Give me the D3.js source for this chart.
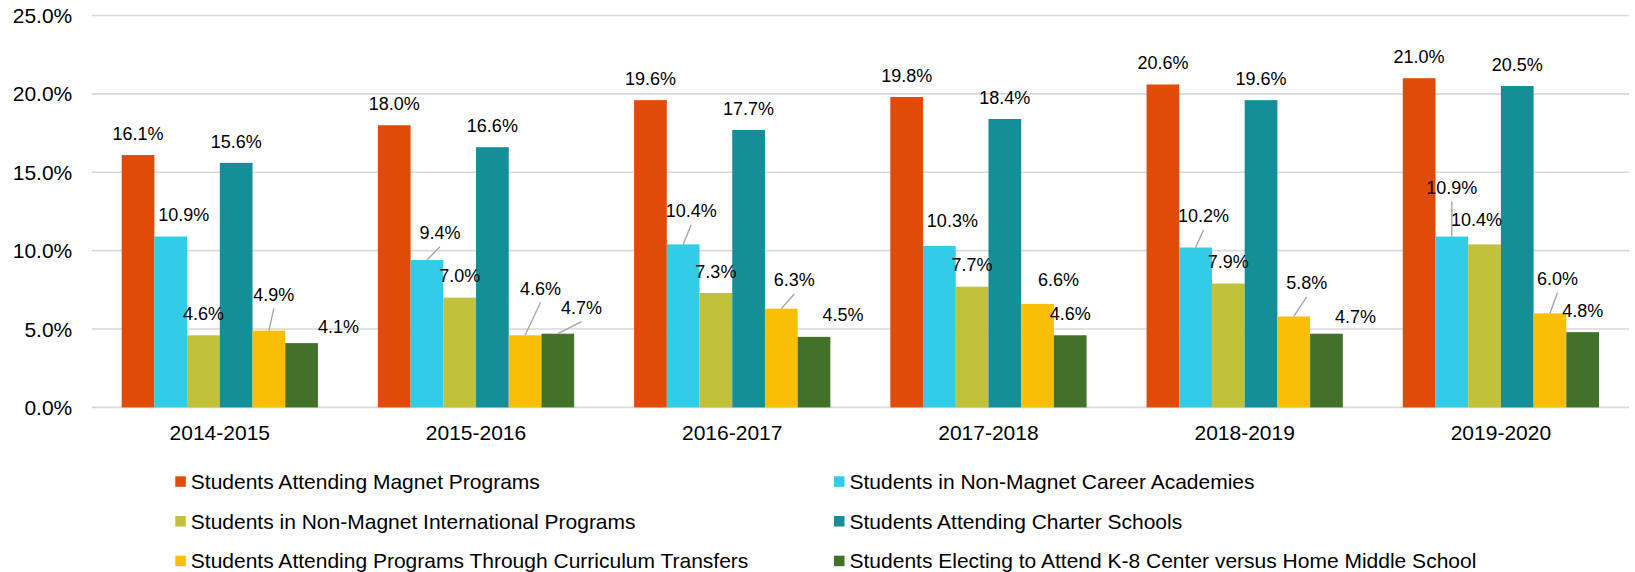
<!DOCTYPE html>
<html>
<head>
<meta charset="utf-8">
<script src="https://cdn.jsdelivr.net/npm/d3@7"></script>
<style>
    html, body { margin: 0; padding: 0; background: #fff; }
    svg { display: block; font-family: "Liberation Sans", Arial, sans-serif; }
</style>
</head>
<body>
<div id="chart"></div>
<script>
// School choice participation chart

// Data
const years = ["2014-2015", "2015-2016", "2016-2017", "2017-2018", "2018-2019", "2019-2020"];
const seriesNames = [
    "Students Attending Magnet Programs",
    "Students in Non-Magnet Career Academies",
    "Students in Non-Magnet International Programs",
    "Students Attending Charter Schools",
    "Students Attending Programs Through Curriculum Transfers",
    "Students Electing to Attend K-8 Center versus Home Middle School"
];
const magnet        = [16.1, 18.0, 19.6, 19.8, 20.6, 21.0];
const careerAcad    = [10.9, 9.4, 10.4, 10.3, 10.2, 10.9];
const international = [4.6, 7.0, 7.3, 7.7, 7.9, 10.4];
const charter       = [15.6, 16.6, 17.7, 18.4, 19.6, 20.5];
const curriculum    = [4.9, 4.6, 6.3, 6.6, 5.8, 6.0];
const k8Center      = [4.1, 4.7, 4.5, 4.6, 4.7, 4.8];
const yTicks = [0, 5, 10, 15, 20, 25];

// Styling / layout (not data)
const colors = ["#E14B08", "#32CCE8", "#C1C13C", "#148F97", "#F9BE06", "#42712A"];
// manual label placement per year, per series: [dx, dy, leader line]
const labelNudge = [
    [[0, 0], [13, 0], [0, 0], [0, 0], [5, -14.5, 1], [37, 5]],
    [[0, 0], [13, -5.5, 1], [0, 0], [0, 0], [15.5, -25.4, 1], [23.7, -4.4, 1]],
    [[0, 0], [8, -12, 1], [0, 0], [0, 0], [13, -7, 1], [29, -1]],
    [[0, 0], [13, -4], [0, 0], [0, 0], [21, -2.7], [0, 0]],
    [[0, 0], [8, -10, 1], [0, 0], [0, 0], [13, -12, 1], [29, 5]],
    [[0, 0], [0, -27.3, 1], [-8, -3], [0, 0], [7.5, -13, 1], [0, 0]]
];

const width = 1635, height = 572;
const allSeries = [magnet, careerAcad, international, charter, curriculum, k8Center];

function drawChart() {
    const svg = d3.select('#chart').append('svg')
        .attr('width', width)
        .attr('height', height);

    const x0 = d3.scaleBand()
        .domain(years)
        .range([91.7, 1629])
        .paddingInner(0.234)
        .paddingOuter(0.117);

    const x1 = d3.scaleBand()
        .domain(d3.range(seriesNames.length))
        .range([0, x0.bandwidth()]);

    const y = d3.scaleLinear()
        .domain([0, 25])
        .range([407.4, 15.5]);

    // gridlines
    svg.append('g').selectAll('line')
        .data(yTicks)
        .enter().append('line')
        .attr('x1', 91.7).attr('x2', 1629)
        .attr('y1', d => y(d)).attr('y2', d => y(d))
        .attr('stroke', '#d9d9d9')
        .attr('stroke-width', 1.6);

    // y tick labels
    svg.append('g').selectAll('text')
        .data(yTicks)
        .enter().append('text')
        .attr('x', 72.3)
        .attr('y', d => y(d) + 7.5)
        .attr('text-anchor', 'end')
        .style('font-size', '21px')
        .style('fill', '#000')
        .text(d => d.toFixed(1) + '%');

    // bars
    const groups = svg.append('g').selectAll('g')
        .data(years)
        .enter().append('g')
        .attr('transform', d => `translate(${x0(d)},0)`);

    groups.selectAll('rect')
        .data((yr, gi) => allSeries.map((s, si) => ({ si, gi, v: s[gi] })))
        .enter().append('rect')
        .attr('x', d => x1(d.si))
        .attr('y', d => y(d.v))
        .attr('width', x1.bandwidth())
        .attr('height', d => y(0) - y(d.v))
        .attr('fill', d => colors[d.si]);

    // data labels + leader lines
    const labels = [];
    years.forEach((yr, gi) => {
        allSeries.forEach((s, si) => {
            const nudge = labelNudge[gi][si];
            const bx = x0(yr) + x1(si) + x1.bandwidth() / 2;
            const by = y(s[gi]);
            labels.push({
                v: s[gi], bx, by,
                lx: bx + nudge[0],
                ly: by - 21.7 + nudge[1],
                leader: !!nudge[2]
            });
        });
    });

    svg.append('g').selectAll('line')
        .data(labels.filter(d => d.leader))
        .enter().append('line')
        .attr('x1', d => d.bx).attr('y1', d => d.by)
        .attr('x2', d => d.lx).attr('y2', d => d.ly + 14)
        .attr('stroke', '#a6a6a6')
        .attr('stroke-width', 1.4);

    svg.append('g').selectAll('text')
        .data(labels)
        .enter().append('text')
        .attr('x', d => d.lx)
        .attr('y', d => d.ly + 6.4)
        .attr('text-anchor', 'middle')
        .style('font-size', '18px')
        .style('fill', '#000')
        .text(d => d.v.toFixed(1) + '%');

    // category labels
    svg.append('g').selectAll('text')
        .data(years)
        .enter().append('text')
        .attr('x', d => x0(d) + x0.bandwidth() / 2)
        .attr('y', 440.2)
        .attr('text-anchor', 'middle')
        .style('font-size', '21px')
        .style('fill', '#000')
        .text(d => d);

    // legend
    const legend = svg.append('g').selectAll('g')
        .data(seriesNames)
        .enter().append('g')
        .attr('transform', (d, i) => `translate(${i % 2 === 0 ? 175.3 : 834},${481.5 + Math.floor(i / 2) * 39.7})`);

    legend.append('rect')
        .attr('x', 0).attr('y', -5.2)
        .attr('width', 10.5).attr('height', 10.5)
        .attr('fill', (d, i) => colors[i]);

    legend.append('text')
        .attr('x', 15.5)
        .attr('y', 7.5)
        .style('font-size', '21px')
        .style('fill', '#000')
        .text(d => d);
}

document.addEventListener('DOMContentLoaded', drawChart);
</script>
</body>
</html>
